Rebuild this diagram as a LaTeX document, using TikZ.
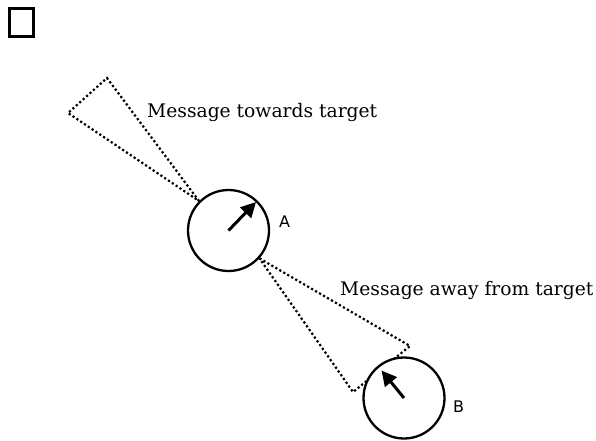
\documentclass[tikz,border=0pt]{standalone}
\usepackage{fontspec}
\setmainfont{DejaVu Serif}
\newfontfamily\labelfont{DejaVu Sans}
\usetikzlibrary{arrows.meta}
\usetikzlibrary{backgrounds}

\begin{document}
\begin{tikzpicture}[x=1pt, y=-1pt,
    agent/.style={circle, draw=black, line width=2.3pt, fill=white, minimum size=81pt, inner sep=0pt},
    heading/.style={-{Triangle[length=15pt,width=15pt]}, line width=3pt},
    cone/.style={line width=2.2pt, dash pattern=on 2.2pt off 2.4pt},
    msg/.style={anchor=base west, inner sep=0pt, font=\fontsize{18.7}{22}\selectfont},
    tag/.style={anchor=base west, inner sep=0pt, font=\labelfont\fontsize{16}{19}\selectfont}]
    \useasboundingbox (0,0) rectangle (596,440);

    \node (box) at (21.7,22.7) [draw, line width=2.6pt, minimum width=24pt, minimum height=28pt, inner sep=0pt] {};

    \node (A) at (228.5,230.5) [agent] {};
    \node (B) at (404,398) [agent] {};

    \node (Atag) at (279,227) [tag] {A};
    \node (Btag) at (453,412) [tag] {B};

    \node (towards) at (147,117) [msg] {Message towards target};
    \node (away) at (340,295) [msg] {Message away from target};

    % where each agent is heading
    \coordinate (Ahead) at (256,202);
    \coordinate (Bhead) at (381.5,370.5);
    \draw [heading] (A.center) -- (Ahead);
    \draw [heading] (B.center) -- (Bhead);

    % message cones, kept under the agents
    \begin{scope}[on background layer]
    \coordinate (T1) at (107,78);
    \coordinate (T2) at (68,113);
    \draw [cone] (A.135) -- (T1) -- (T2) -- cycle;

    \coordinate (W1) at (410,346);
    \coordinate (W2) at (353,392);
    \draw [cone] (A.-42) -- (W1) -- (W2) -- cycle;
    \end{scope}
\end{tikzpicture}
\end{document}
